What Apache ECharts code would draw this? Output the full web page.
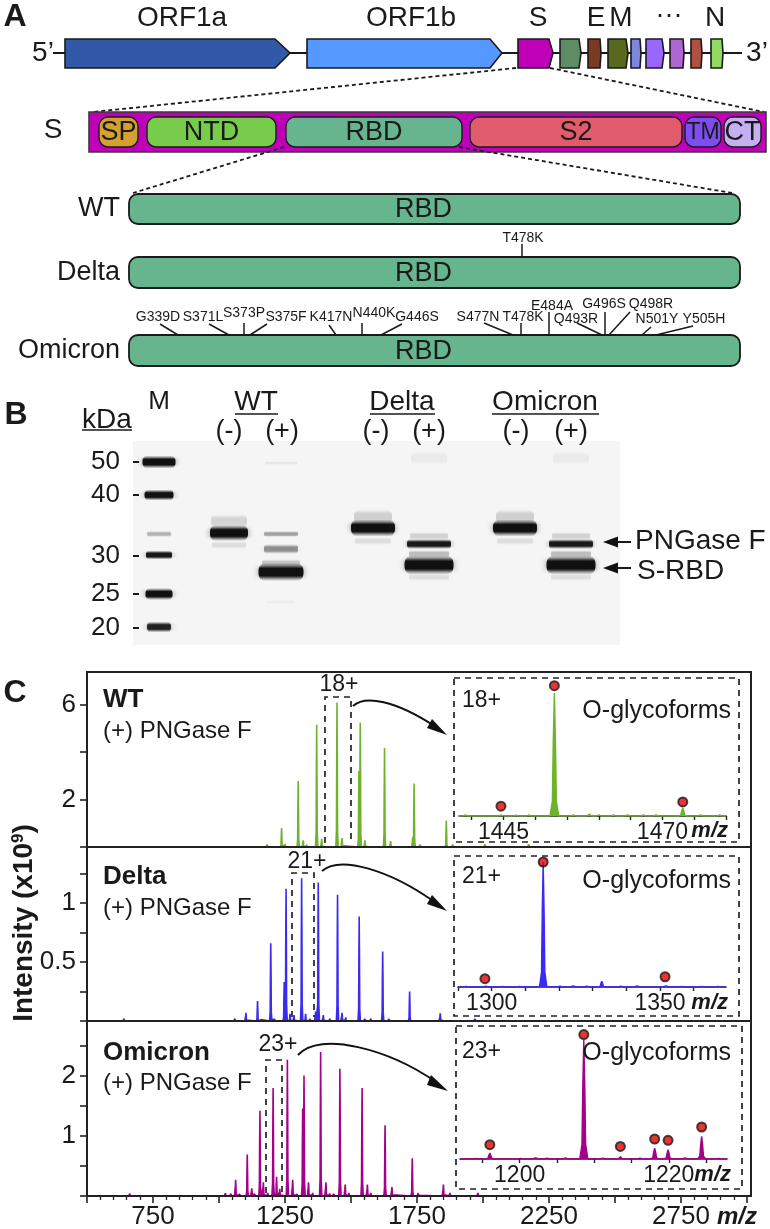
<!DOCTYPE html>
<html>
<head>
<meta charset="utf-8">
<style>html,body{margin:0;padding:0;background:#fff}#chart{width:770px;height:1229px}</style>
<script src="https://cdn.jsdelivr.net/npm/echarts@6/dist/echarts.min.js"></script>
</head>
<body>
<div id="chart"></div>
<script>
// panel A, schematic tracks: [start, end, shoulder]
const geneSpans = [[65, 290, 275], [307, 502, 490], [518, 553, 549], [560, 581, 579], [588, 601, 600], [608, 628, 626], [631, 641, 640], [646, 664, 662], [670, 684, 683], [691, 702, 701], [711, 723, 722]];
const geneColors = ["#3159a8", "#5598ff", "#c000b8", "#5e8c64", "#7a3b22", "#56691f", "#7e86e0", "#9966ff", "#ae66d0", "#b05040", "#90dc60"];
const domainNames = ["SP", "NTD", "RBD", "S2", "TM", "CT"];
const domainSpans = [[99, 138], [147, 276], [286, 462], [470, 682], [685, 721], [724, 761]];
const domainColors = ["#d4a030", "#77cc4c", "#66b58f", "#e05c6c", "#7e4df2", "#c4b0f0"];
const rbdNames = ["WT", "Delta", "Omicron"];
const rbdRows = [[194, 224], [257, 288], [335, 366]];
const mutOmicron = ["G339D", "S371L", "S373P", "S375F", "K417N", "N440K", "G446S", "S477N", "T478K", "E484A", "Q493R", "G496S", "Q498R", "N501Y", "Y505H"];
const mutLabelX = [158, 203, 244, 286, 331, 374, 417, 478, 523, 552, 576, 604, 651, 657, 704];
const mutLabelY = [317, 317, 313, 317, 317, 313, 317, 317, 317, 306, 319, 304, 304, 319, 319];
// stems: x1, y1, x2, y2
const mutStems = [[160, 324, 178, 335], [209, 324, 229, 335], [244, 323, 244, 335], [267, 324, 250, 335], [329, 325, 336, 335], [362, 323, 362, 335], [402, 324, 381, 335], [484, 323, 513, 335], [521, 323, 521, 335], [549, 312, 549, 335], [577, 323, 602, 335], [605, 312, 605, 335], [630, 312, 609, 335], [651, 327, 642, 335], [693, 326, 656, 335], [522, 244, 522, 257]];
const zoomLines = [[516, 68, 93, 112], [550, 68, 764, 112], [284, 147, 133, 193], [459, 147, 732, 193]];

// panel B, gel bands: lane centre, migration, width, height, darkness
const gelTickKda = ["50", "40", "30", "25", "20"];
const gelTickPos = [21, 54, 115, 153, 187];
const gelBands = [
  [159, 21, 33, 13, 1], [159, 54, 29, 11, 1], [159, 93, 24, 6, .28], [159, 114, 26, 9, .95], [159, 153, 27, 12, 1], [159, 186, 24, 11, .9],
  [229, 80, 36, 14, .14], [229, 92, 38, 16, 1], [229, 104, 34, 8, .1],
  [281, 22, 32, 4, .06], [281, 93, 34, 6, .35], [281, 108, 34, 10, .42], [281, 122, 38, 8, .2], [281, 131, 45, 18, 1], [281, 161, 28, 4, .04],
  [373, 76, 38, 16, .16], [373, 87, 44, 17, 1], [373, 100, 36, 8, .1],
  [429, 17, 36, 14, .05], [429, 95, 38, 8, .15], [429, 103, 44, 10, .95], [429, 113, 40, 8, .24], [429, 124, 49, 19, 1], [429, 136, 40, 8, .1],
  [515, 76, 38, 16, .16], [515, 87, 44, 17, 1], [515, 100, 36, 8, .1],
  [571, 17, 36, 14, .05], [571, 95, 38, 8, .15], [571, 103, 44, 10, .95], [571, 113, 40, 8, .24], [571, 124, 49, 19, 1], [571, 136, 40, 8, .1]
];

// panel C, full spectra: m/z, intensity
const wtPeaks = [[640, .04], [655, .06], [672, .03], [695, .03], [1075, .03], [1150, .04], [1183, .18], [1237, .8], [1250, .12], [1300, 2.78], [1319, .28], [1332, .1], [1370, 5.15], [1389, .35], [1405, .08], [1447, 6.08], [1466, .38], [1480, .08], [1530, 3.2], [1535, 5.23], [1553, .28], [1570, .06], [1627, 4.17], [1650, .25], [1665, .08], [1734, .42], [1739, 2.67], [1762, .17], [1800, .05], [1861, 1.12], [1886, .17], [2008, .2], [2025, .06], [2174, .2], [2300, .05]];
const deltaPeaks = [[530, .01], [620, .01], [640, .02], [740, .01], [1020, .01], [1060, .02], [1102, .07], [1146, .17], [1160, .02], [1196, .66], [1210, .03], [1247, .33], [1254, 1.12], [1269, .06], [1284, .05], [1313, 1.21], [1328, .06], [1345, .03], [1366, .08], [1376, 1.175], [1395, .05], [1420, .02], [1449, 1.07], [1466, .07], [1480, .03], [1531, .885], [1553, .03], [1575, .02], [1620, .59], [1644, .03], [1722, .25], [1745, .01], [1838, .065], [1860, .015], [1970, .03]];
const omicronPeaks = [[540, .03], [600, .02], [635, .03], [662, .04], [680, .03], [720, .02], [800, .01], [960, .02], [985, .03], [1025, .08], [1045, .04], [1063, .27], [1078, .06], [1107, .69], [1124, .13], [1135, .06], [1155, 1.42], [1168, .23], [1185, .05], [1205, 1.8], [1218, .32], [1230, .12], [1259, 2.27], [1279, .27], [1295, .06], [1317, 1.46], [1322, 2.01], [1339, .23], [1355, .05], [1385, 2.4], [1405, .23], [1420, .07], [1435, .06], [1458, 2.12], [1478, .19], [1492, .05], [1542, 1.8], [1562, .19], [1575, .05], [1629, 1.18], [1655, .15], [1732, .63], [1755, .08], [1850, .19], [1875, .05], [1981, .05], [2136, .02]];

// panel C, insets: m/z, relative intensity
const wtInset = [[1439, .8], [1444.6, 1], [1447, .6], [1449, .8], [1453, 100], [1456, 1], [1458.5, 1.5], [1460, 1], [1462.3, 1], [1464.5, .8], [1467, 1], [1469, .8], [1473.2, 6.5], [1476, .8], [1479, 1]];
const wtDots = [[1444.6, 8], [1453, 106], [1473.2, 11.4]];
const deltaInset = [[1292, .6], [1298, 1], [1303, .6], [1308, .6], [1315.3, 100], [1320, 1.2], [1324, 1.4], [1328, 1.2], [1332.7, 4.5], [1338, 1], [1343, 1.4], [1351.5, 1.6], [1356, .8], [1362, .8], [1367, .6]];
const deltaDots = [[1298, 6.7], [1351.5, 8.2], [1315.3, 100]];
const omicronInset = [[1194, .8], [1196, 5], [1200, .8], [1202, 1.6], [1203.5, 1.2], [1206, 1.4], [1208.6, 100], [1211, 1.2], [1213.5, 2], [1216, 1], [1218.1, 9.2], [1219.9, 7.8], [1222, 1.4], [1224.4, 19], [1226.5, .8]];
const omicronDots = [[1196, 12], [1208.6, 104.6], [1213.5, 10.6], [1218.1, 16.8], [1219.9, 15.7], [1224.4, 26.9]];

const INK = "#1a1a1a";
const FONT = '"Liberation Sans", Arial, sans-serif';
const GREEN = "#6fb32b", BLUE = "#3a2bf0", PURPLE = "#a3008c";

// narrow spike through each read peak
function spikes(peaks, hw, lo, hi) {
  const shape = [[-1, 0], [-.45, .12], [-.25, .6], [0, 1], [.25, .6], [.45, .12], [1, 0]];
  const out = [[lo, 0]];
  peaks.forEach(([m, h]) => shape.forEach(([dx, f]) => out.push([m + dx * hw, h * f])));
  out.push([hi, 0]);
  return out;
}

function txt(text, x, y, size, extra) {
  return {
    type: "text", z: 20, silent: true,
    style: Object.assign({ text, x, y, fill: INK, font: `${size}px ${FONT}`, align: "center", verticalAlign: "middle" }, extra || {})
  };
}
function seg(x1, y1, x2, y2, width, dash, color) {
  return {
    type: "line", z: 19, silent: true,
    shape: { x1, y1, x2, y2 },
    style: { stroke: color || INK, lineWidth: width || 2, lineDash: dash || null }
  };
}
function dashBox(x1, y1, x2, y2) {
  return { type: "rect", z: 18, silent: true, shape: { x: x1, y: y1, width: x2 - x1, height: y2 - y1 }, style: { fill: "none", stroke: "#222", lineWidth: 1.7, lineDash: [6, 5] } };
}
function bracket(x1, x2, top, bottom) {
  return { type: "polyline", z: 18, silent: true, shape: { points: [[x1, bottom], [x1, top], [x2, top], [x2, bottom]] }, style: { fill: "none", stroke: "#222", lineWidth: 1.7, lineDash: [6, 5] } };
}
function curveArrow(x0, y0, c1x, c1y, c2x, c2y, x1, y1, head) {
  return [
    { type: "bezierCurve", z: 19, silent: true, shape: { x1: x0, y1: y0, cpx1: c1x, cpy1: c1y, cpx2: c2x, cpy2: c2y, x2: x1, y2: y1 }, style: { fill: "none", stroke: "#111", lineWidth: 2 } },
    { type: "polygon", z: 19, silent: true, shape: { points: head }, style: { fill: "#111" } }
  ];
}
function arrowLeft(tip, tail, y) {
  return [
    seg(tip + 10, y, tail, y, 2),
    { type: "polygon", z: 19, silent: true, shape: { points: [[tip, y], [tip + 15, y - 5.5], [tip + 15, y + 5.5]] }, style: { fill: "#111" } }
  ];
}

const graphics = [
  txt("A", 15, 17, 32, { font: `bold 32px ${FONT}` }),
  txt("ORF1a", 182, 18, 28), txt("ORF1b", 411, 18, 28), txt("S", 538, 18, 28),
  txt("E", 596, 18, 28), txt("M", 621, 18, 28), txt("···", 669, 16, 27), txt("N", 715, 18, 28),
  txt("5’", 43, 53, 28), txt("3’", 757, 53, 28),
  txt("S", 53, 130, 28),
  txt("T478K", 523, 238, 14),
  txt("B", 16, 415, 32, { font: `bold 32px ${FONT}` }),
  txt("kDa", 107, 420, 28), seg(82, 430, 132, 430, 1.6),
  txt("M", 159, 402, 26),
  txt("WT", 256, 402, 28), seg(235, 414, 278, 414, 1.6),
  txt("Delta", 402, 402, 28), seg(370, 414, 435, 414, 1.6),
  txt("Omicron", 545, 402, 28), seg(492, 414, 599, 414, 1.6),
  txt("(-)", 229, 432, 27), txt("(+)", 282, 432, 27),
  txt("(-)", 376, 432, 27), txt("(+)", 429, 432, 27),
  txt("(-)", 516, 432, 27), txt("(+)", 571, 432, 27),
  txt("PNGase F", 635, 541, 28, { align: "left" }),
  txt("S-RBD", 637, 571, 28, { align: "left" }),
  ...arrowLeft(603, 631, 542), ...arrowLeft(603, 631, 568),
  txt("C", 15, 693, 32, { font: `bold 32px ${FONT}` }),
  {
    type: "text", z: 20, silent: true, x: 24, y: 923, rotation: Math.PI / 2,
    style: {
      text: "{a|Intensity (x10}{s|9}{a|)}", fill: INK, align: "center", verticalAlign: "middle",
      rich: { a: { font: `bold 28px ${FONT}`, fill: INK }, s: { font: `bold 17px ${FONT}`, fill: INK, verticalAlign: "top", padding: [0, 0, 10, 0] } }
    }
  },
  txt("WT", 103, 700, 26, { align: "left", font: `bold 26px ${FONT}` }),
  txt("(+) PNGase F", 103, 731, 24, { align: "left" }),
  txt("Delta", 103, 877, 26, { align: "left", font: `bold 26px ${FONT}` }),
  txt("(+) PNGase F", 103, 908, 24, { align: "left" }),
  txt("Omicron", 103, 1053, 26, { align: "left", font: `bold 26px ${FONT}` }),
  txt("(+) PNGase F", 103, 1083, 24, { align: "left" }),
  txt("18+", 339, 685, 23), txt("21+", 307, 862, 23), txt("23+", 278, 1045, 23),
  bracket(325, 351, 697, 843), bracket(292, 314, 873, 1017), bracket(266, 282, 1060, 1193),
  dashBox(454, 678, 739, 842), dashBox(454, 856, 739, 1016), dashBox(456, 1026, 742, 1189),
  ...curveArrow(353, 706, 365, 695, 395, 700, 436, 727, [[447, 735], [432, 719], [427, 728]]),
  ...curveArrow(322, 871, 340, 855, 390, 870, 436, 903, [[447, 911], [432, 895], [427, 904]]),
  ...curveArrow(298, 1055, 320, 1030, 390, 1050, 436, 1082, [[448, 1091], [431, 1075], [427, 1085]]),
  txt("18+", 462, 701, 23, { align: "left" }), txt("21+", 462, 877, 23, { align: "left" }), txt("23+", 462, 1052, 23, { align: "left" }),
  txt("O-glycoforms", 731, 711, 25, { align: "right" }), txt("O-glycoforms", 731, 881, 25, { align: "right" }), txt("O-glycoforms", 731, 1053, 25, { align: "right" }),
  txt("m/z", 728, 831, 22, { align: "right", font: `italic bold 22px ${FONT}` }),
  txt("m/z", 728, 1003, 22, { align: "right", font: `italic bold 22px ${FONT}` }),
  txt("m/z", 731, 1175, 22, { align: "right", font: `italic bold 22px ${FONT}` }),
  txt("m/z", 757, 1217, 24, { align: "right", font: `italic bold 24px ${FONT}` }),
  // spectrum frame
  { type: "rect", z: 17, silent: true, shape: { x: 87, y: 672, width: 664, height: 524 }, style: { fill: "none", stroke: "#222", lineWidth: 2 } },
  seg(87, 847, 751, 847, 2.2, null, "#222"), seg(87, 1021, 751, 1021, 2.2, null, "#222")
];

function mainGrid(top, height) {
  return { left: 87, width: 660, top, height, outerBoundsMode: "none" };
}
function mainX(showLabels, gridIndex) {
  return {
    type: "value", gridIndex, min: 500, max: 3000, interval: 250,
    axisLine: { show: true, onZero: false, lineStyle: { color: "#222", width: 2 } },
    axisTick: { show: showLabels, length: 7, lineStyle: { color: "#222", width: 1.6 } },
    minorTick: { show: showLabels, splitNumber: 5, length: 4, lineStyle: { color: "#222", width: 1.3 } },
    axisLabel: {
      show: showLabels, customValues: [750, 1250, 1750, 2250, 2750], margin: 8,
      color: INK, fontFamily: FONT, fontSize: 26, formatter: v => String(v)
    },
    splitLine: { show: false }
  };
}
function mainY(gridIndex, max, ticks, labels) {
  return {
    type: "value", gridIndex, min: 0, max,
    axisLine: { show: true, lineStyle: { color: "#222", width: 2 } },
    axisTick: { show: true, customValues: ticks, length: 7, lineStyle: { color: "#222", width: 1.6 } },
    axisLabel: { customValues: labels, margin: 11, color: INK, fontFamily: FONT, fontSize: 26, formatter: v => String(v) },
    splitLine: { show: false }
  };
}
function insetX(gridIndex, lo, hi, ticks, labels) {
  return {
    type: "value", gridIndex, min: lo, max: hi,
    axisLine: { show: true, onZero: false, lineStyle: { color: "#222", width: 1.6 } },
    axisTick: { show: true, customValues: ticks, length: 4, lineStyle: { color: "#222", width: 1.4 } },
    axisLabel: { customValues: labels, margin: 5, color: INK, fontFamily: FONT, fontSize: 23, formatter: v => String(v) },
    splitLine: { show: false }
  };
}
function specSeries(peaks, hw, lo, hi, color, idx, width) {
  return {
    type: "line", xAxisIndex: idx, yAxisIndex: idx, data: spikes(peaks, hw, lo, hi),
    showSymbol: false, symbol: "none", silent: true, animation: false, clip: true,
    lineStyle: { color, width }, areaStyle: { color, opacity: 1 }, z: 5
  };
}
function dotSeries(dots, idx) {
  return {
    type: "scatter", xAxisIndex: idx, yAxisIndex: idx, data: dots, symbolSize: 9, silent: true, clip: false,
    itemStyle: { color: "#e60000", borderColor: "#1a1a1a", borderWidth: 2 }, z: 8
  };
}
function schem(renderItem, data) {
  return { type: "custom", xAxisIndex: 0, yAxisIndex: 0, data, renderItem, silent: true, clip: false, animation: false, z: 3 };
}

const geneRender = (p, api) => {
  const a = api.coord([api.value(0), 39]), s = api.coord([api.value(2), 39]);
  const b = api.coord([api.value(1), 53]), c = api.coord([api.value(0), 68]);
  return {
    type: "polygon",
    shape: { points: [[a[0], a[1]], [s[0], a[1]], [b[0], b[1]], [s[0], c[1]], [c[0], c[1]]] },
    style: { fill: geneColors[p.dataIndex], stroke: INK, lineWidth: 1.6 }
  };
};
const segRender = (dash, width) => (p, api) => {
  const a = api.coord([api.value(0), api.value(1)]), b = api.coord([api.value(2), api.value(3)]);
  return { type: "line", shape: { x1: a[0], y1: a[1], x2: b[0], y2: b[1] }, style: { stroke: INK, lineWidth: width, lineDash: dash } };
};
const domainRender = (p, api) => {
  const a = api.coord([api.value(0), 117]), b = api.coord([api.value(1), 147]);
  return {
    type: "group", children: [
      { type: "rect", shape: { x: a[0], y: a[1], width: b[0] - a[0], height: b[1] - a[1], r: 9 }, style: { fill: domainColors[p.dataIndex], stroke: INK, lineWidth: 1.4 } },
      { type: "text", style: { text: domainNames[p.dataIndex], x: (a[0] + b[0]) / 2, y: (a[1] + b[1]) / 2 + 1, align: "center", verticalAlign: "middle", fill: INK, font: `${domainNames[p.dataIndex] === "TM" ? 23 : 27}px ${FONT}` } }
    ]
  };
};
const rbdRender = (p, api) => {
  const a = api.coord([129, api.value(0)]), b = api.coord([740, api.value(1)]);
  return {
    type: "group", children: [
      { type: "rect", shape: { x: a[0], y: a[1], width: b[0] - a[0], height: b[1] - a[1], r: 9 }, style: { fill: "#66b58f", stroke: INK, lineWidth: 1.8 } },
      { type: "text", style: { text: "RBD", x: (a[0] + b[0]) / 2 - 11, y: (a[1] + b[1]) / 2 + 1, align: "center", verticalAlign: "middle", fill: INK, font: `27px ${FONT}` } },
      { type: "text", style: { text: rbdNames[p.dataIndex], x: a[0] - 9, y: (a[1] + b[1]) / 2, align: "right", verticalAlign: "middle", fill: INK, font: `27px ${FONT}` } }
    ]
  };
};
const mutRender = (p, api) => {
  const a = api.coord([api.value(0), api.value(1)]);
  return { type: "text", style: { text: mutOmicron[p.dataIndex], x: a[0], y: a[1], align: "center", verticalAlign: "middle", fill: INK, font: `14px ${FONT}` } };
};
// soft band: vertical fade with blurred ends
const bandRender = (p, api) => {
  const a = api.coord([api.value(0), api.value(1)]);
  const w = api.value(2), h = api.value(3), d = api.value(4);
  const ink = k => `rgba(8,8,8,${d * k})`;
  return {
    type: "rect",
    shape: { x: a[0] - w / 2, y: a[1] - h / 2, width: w, height: h, r: h / 2.5 },
    style: {
      fill: new echarts.graphic.LinearGradient(0, 0, 0, 1, [
        { offset: 0, color: ink(0) }, { offset: .14, color: ink(.35) }, { offset: .3, color: ink(.95) },
        { offset: .7, color: ink(.95) }, { offset: .86, color: ink(.35) }, { offset: 1, color: ink(0) }
      ]),
      shadowColor: ink(.4), shadowBlur: 6
    }
  };
};

const chart = echarts.init(document.getElementById("chart"), null, { renderer: "canvas" });
chart.setOption({
  backgroundColor: "#fff",
  animation: false,
  textStyle: { fontFamily: FONT },
  graphic: { elements: graphics },
  grid: [
    { left: 0, top: 0, width: 770, height: 1229, outerBoundsMode: "none" },
    { left: 133, top: 441, width: 487, height: 204, show: true, backgroundColor: "#f5f5f5", borderWidth: 0, outerBoundsMode: "none" },
    mainGrid(672, 175), mainGrid(847, 174), mainGrid(1021, 175),
    { left: 459, width: 267, top: 680, height: 136, outerBoundsMode: "none" },
    { left: 458, width: 268, top: 852, height: 135, outerBoundsMode: "none" },
    { left: 460, width: 267, top: 1030, height: 129, outerBoundsMode: "none" }
  ],
  xAxis: [
    { type: "value", gridIndex: 0, min: 0, max: 770, show: false },
    { type: "value", gridIndex: 1, min: 133, max: 620, show: false },
    mainX(false, 2), mainX(false, 3), mainX(true, 4),
    insetX(5, 1438, 1480, [1440, 1445, 1450, 1455, 1460, 1465, 1470, 1475, 1480], [1445, 1470]),
    insetX(6, 1290, 1369.6, [1290, 1300, 1310, 1320, 1330, 1340, 1350, 1360], [1300, 1350]),
    insetX(7, 1192, 1227.8, [1195, 1200, 1205, 1210, 1215, 1220, 1225], [1200, 1220])
  ],
  yAxis: [
    { type: "value", gridIndex: 0, min: 0, max: 1229, inverse: true, show: false },
    {
      type: "value", gridIndex: 1, min: 0, max: 204, inverse: true,
      axisLine: { show: false },
      axisTick: { show: true, inside: true, customValues: gelTickPos, length: 6, lineStyle: { color: INK, width: 2 } },
      axisLabel: { customValues: gelTickPos, margin: 13, color: INK, fontFamily: FONT, fontSize: 26, formatter: v => gelTickKda[gelTickPos.indexOf(v)] },
      splitLine: { show: false }
    },
    mainY(2, 7.368, [0, 2, 4, 6], [2, 6]),
    mainY(3, 1.475, [0, .25, .5, .75, 1, 1.25], [.5, 1]),
    mainY(4, 2.917, [0, .5, 1, 1.5, 2, 2.5], [1, 2]),
    { type: "value", gridIndex: 5, min: 0, max: 110.6, show: false },
    { type: "value", gridIndex: 6, min: 0, max: 108, show: false },
    { type: "value", gridIndex: 7, min: 0, max: 108.4, show: false }
  ],
  series: [
    // panel A
    schem(segRender(null, 2), [[53, 53, 742, 53]]),
    schem(geneRender, geneSpans),
    schem(segRender([4, 3], 1.8), zoomLines.slice(0, 2)),
    schem((p, api) => {
      const a = api.coord([89, 112]), b = api.coord([766, 152]);
      return { type: "rect", shape: { x: a[0], y: a[1], width: b[0] - a[0], height: b[1] - a[1] }, style: { fill: "#c000b8", stroke: "#3a3a3a", lineWidth: 1.6 } };
    }, [[0]]),
    Object.assign(schem(domainRender, domainSpans), { z: 4 }),
    schem(segRender([4, 3], 1.8), zoomLines.slice(2)),
    schem(rbdRender, rbdRows),
    schem(segRender(null, 1.5), mutStems),
    schem(mutRender, mutLabelX.map((x, i) => [x, mutLabelY[i]])),
    // panel B
    { type: "custom", xAxisIndex: 1, yAxisIndex: 1, data: gelBands, renderItem: bandRender, silent: true, animation: false, z: 3 },
    // panel C
    specSeries(wtPeaks, 4.5, 500, 3000, GREEN, 2, 1.6),
    specSeries(deltaPeaks, 4.5, 500, 3000, BLUE, 3, 1.6),
    specSeries(omicronPeaks, 4.5, 500, 3000, PURPLE, 4, 1.6),
    specSeries(wtInset, .7, 1438, 1480, GREEN, 5, 1.4),
    specSeries(deltaInset, 1.1, 1290, 1369.6, BLUE, 6, 1.4),
    specSeries(omicronInset, .55, 1192, 1227.8, PURPLE, 7, 1.4),
    dotSeries(wtDots, 5), dotSeries(deltaDots, 6), dotSeries(omicronDots, 7)
  ]
});
</script>
</body>
</html>
